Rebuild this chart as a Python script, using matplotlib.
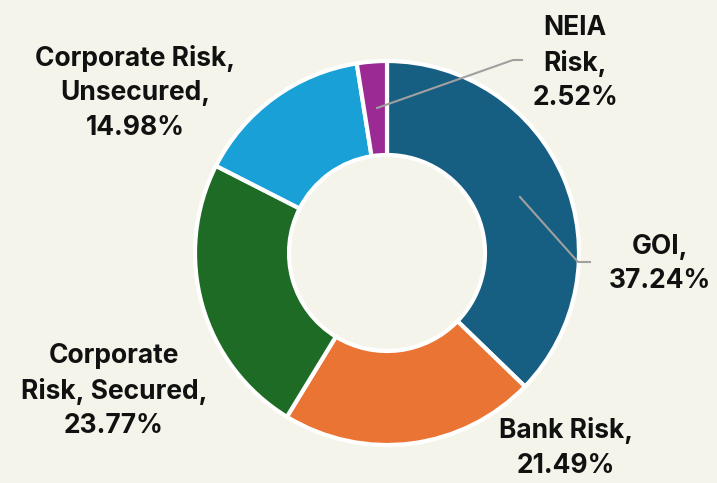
import matplotlib.pyplot as plt

categories = ["GOI", "Bank Risk", "Corporate Risk, Secured", "Corporate Risk, Unsecured", "NEIA Risk"]
values = [37.24, 21.49, 23.77, 14.98, 2.52]
labels = ["GOI,\n37.24%", "Bank Risk,\n21.49%", "Corporate\nRisk, Secured,\n23.77%",
          "Corporate Risk,\nUnsecured,\n14.98%", "NEIA\nRisk,\n2.52%"]
colors = ["#175f82", "#ea7434", "#1e6b25", "#18a0d7", "#9c2a94"]

W, H = 717, 483
bg = "#f5f4ea"
fig = plt.figure(figsize=(W / 100, H / 100), dpi=100, facecolor=bg)
ax = fig.add_axes([0, 0, 1, 1])
ax.set_facecolor(bg)

cx, cy, R = 387, H - 253, 192
ax.pie(values, colors=colors, startangle=90, counterclock=False, center=(cx, cy), radius=R,
       wedgeprops=dict(width=94, edgecolor="white", linewidth=3), frame=True)
ax.set_xlim(0, W)
ax.set_ylim(0, H)
ax.set_aspect("equal")
ax.axis("off")

label_pos = [(660, 264), (566, 448), (114, 391), (135, 93), (575, 63)]
for (x, y), t in zip(label_pos, labels):
    ax.text(x, H - y, t, ha="center", va="center", fontsize=19, fontweight="bold",
            family="Inter", linespacing=1.42, color="#111111")

# leader lines
ax.plot([377, 513, 522], [H - 108, H - 60, H - 60], color="#a0a0a0", lw=1.5)
ax.plot([520, 578, 590], [H - 197, H - 262, H - 262], color="#a0a0a0", lw=1.5)

fig.savefig("out.png", dpi=100, facecolor=bg)
